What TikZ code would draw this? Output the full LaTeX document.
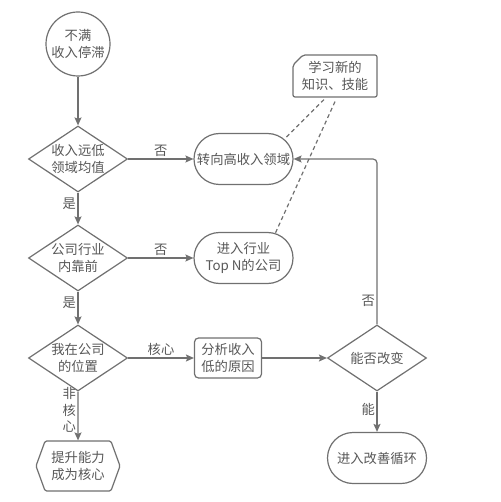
\documentclass[tikz,border=0pt]{standalone}
\usepackage{fontspec}
\setmainfont{Noto Sans CJK SC}
\usetikzlibrary{shapes.geometric}
\usetikzlibrary{shapes.misc}
\usetikzlibrary{shapes.symbols}
\usetikzlibrary{arrows.meta}
\definecolor{linegray}{RGB}{112,112,112}
\definecolor{textgray}{RGB}{88,88,88}

\begin{document}
\begin{tikzpicture}[x=1pt,y=-1pt]
\tikzstyle{base} = [draw=linegray, line width=1.2pt, fill=white, text=textgray, font=\fontsize{13.3}{16.5}\selectfont, align=center, inner sep=0pt]
\tikzstyle{begin} = [base, circle, minimum size=64pt]
\tikzstyle{ask} = [base, diamond, aspect=1.5, minimum width=99pt, minimum height=66pt]
\tikzstyle{term} = [base, rounded rectangle, minimum width=99pt, minimum height=51pt]
\tikzstyle{task} = [base, rectangle, rounded corners=4pt, minimum width=67pt, minimum height=40pt]
\tikzstyle{hexa} = [base, signal, signal to=west and east, signal pointer angle=140, rounded corners=1.5pt, minimum width=84pt, minimum height=50pt]
\tikzstyle{memo} = [base, chamfered rectangle, chamfered rectangle corners=north west, chamfered rectangle xsep=5pt, chamfered rectangle ysep=5pt, rounded corners=2pt, minimum width=84pt, minimum height=42pt]
\tikzstyle{lab} = [text=textgray, font=\fontsize{13.3}{16.5}\selectfont, align=center, inner sep=1.5pt]
\tikzstyle{arr} = [draw=linegray, line width=1.2pt, -{Stealth[length=8pt,width=7pt,inset=1.5pt]}]
\tikzstyle{tie} = [draw=linegray, line width=1.2pt, dash pattern=on 4pt off 3pt]

\useasboundingbox (0,0) rectangle (500,502);

\draw(78,44) node[begin]        (start) {不满\\收入停滞};
\draw(78,159) node[ask]         (q1) {收入远低\\领域均值};
\draw(78,258) node[ask]         (q2) {公司行业\\内靠前};
\draw(78,358) node[ask]         (q3) {我在公司\\的位置};
\draw(78,466) node[hexa]        (core) {提升能力\\成为核心};
\draw(243.5,159) node[term]     (t1) {转向高收入领域};
\draw(243.5,258) node[term]     (t2) {进入行业\\Top N的公司};
\draw(228,358) node[task]       (why) {分析收入\\低的原因};
\draw(377,358) node[ask]        (q4) {能否改变};
\draw(377,458) node[term]       (loop) {进入改善循环};
\draw(335,76) node[memo]        (note) {学习新的\\知识、技能};

\draw[arr] (start) -- (q1);
\draw[arr] (q1) -- node[lab, above] {否} (t1);
\draw[arr] (q1) -- node[lab, left, pos=0.35] {是} (q2);
\draw[arr] (q2) -- node[lab, above] {否} (t2);
\draw[arr] (q2) -- node[lab, left, pos=0.35] {是} (q3);
\draw[arr] (q3) -- node[lab, above] {核心} (why);
\draw[arr] (q3) -- node[lab, left, pos=0.38] {非\\核\\心} (core);
\draw[arr] (why) -- (q4);
\draw[arr] (q4) -- node[lab, left, pos=0.43] {能} (loop);
\draw[arr, rounded corners=4pt] (q4.north) |- node[lab, left, pos=0.07] {否} (t1.east);

\draw[tie] ([xshift=-11pt,yshift=-2pt]note.south) -- (t1.26);
\draw[tie] ([yshift=-4pt]note.south) -- (t2.38);
\end{tikzpicture}
\end{document}
